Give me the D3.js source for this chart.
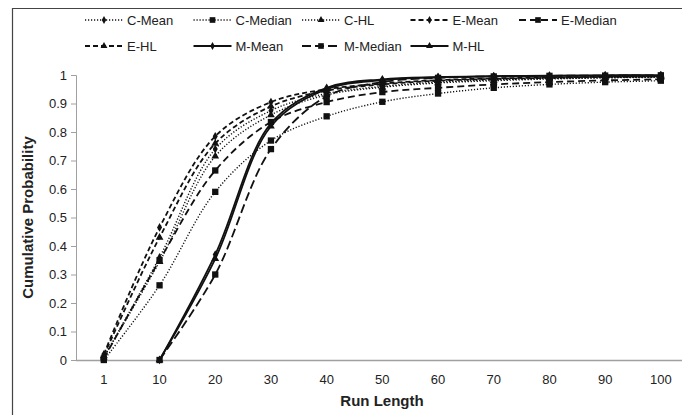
<!DOCTYPE html>
<html>
<head>
<meta charset="utf-8">
<script src="https://cdn.jsdelivr.net/npm/d3@7"></script>
<style>
  html, body { margin: 0; padding: 0; background: #fff; }
  svg { display: block; }
  text { font-family: "Liberation Sans", Arial, sans-serif; fill: #222; }
</style>
</head>
<body>
<div id="chart"></div>
<script>
const runLengths = ["1", "10", "20", "30", "40", "50", "60", "70", "80", "90", "100"];
const yTicks = [0, 0.1, 0.2, 0.3, 0.4, 0.5, 0.6, 0.7, 0.8, 0.9, 1];
const seriesNames = ["C-Mean", "C-Median", "C-HL", "E-Mean", "E-Median", "E-HL", "M-Mean", "M-Median", "M-HL"];
const cMean   = [0.01, 0.36, 0.74, 0.875, 0.935, 0.96, 0.975, 0.983, 0.988, 0.991, 0.993];
const cMedian = [0.0, 0.262, 0.59, 0.77, 0.855, 0.906, 0.935, 0.955, 0.967, 0.975, 0.98];
const cHL     = [0.01, 0.345, 0.715, 0.86, 0.93, 0.957, 0.972, 0.98, 0.986, 0.99, 0.992];
const eMean   = [0.02, 0.465, 0.785, 0.905, 0.95, 0.97, 0.982, 0.988, 0.991, 0.994, 0.995];
const eMedian = [0.005, 0.35, 0.665, 0.835, 0.905, 0.94, 0.955, 0.967, 0.975, 0.981, 0.985];
const eHL     = [0.015, 0.43, 0.76, 0.89, 0.945, 0.967, 0.98, 0.986, 0.99, 0.993, 0.995];
const mMean   = [null, 0, 0.37, 0.83, 0.955, 0.985, 0.993, 0.996, 0.998, 0.999, 0.999];
const mMedian = [null, 0, 0.30, 0.74, 0.925, 0.975, 0.99, 0.995, 0.997, 0.998, 0.999];
const mHL     = [null, 0, 0.355, 0.82, 0.95, 0.982, 0.992, 0.995, 0.997, 0.998, 0.999];

const values = [cMean, cMedian, cHL, eMean, eMedian, eHL, mMean, mMedian, mHL];
const dashes = ["1.2,1.8", "1.2,1.8", "1.2,1.8", "5,3", "7,4", "5,3", null, "9,4", null];
const widths = [1.4, 1.4, 1.4, 1.8, 1.8, 1.8, 1.8, 1.8, 1.8];
const shapes = [d3.symbolDiamond, d3.symbolSquare, d3.symbolTriangle,
                d3.symbolDiamond, d3.symbolSquare, d3.symbolTriangle,
                d3.symbolDiamond, d3.symbolSquare, d3.symbolTriangle];
const sizes = [22, 40, 26, 22, 40, 26, 22, 40, 26];

const chartWidth = 682;
const chartHeight = 415;
const plotLeft = 76, plotTop = 75, plotBottom = 360, plotRight = 682;

const svg = d3.select("#chart").append("svg")
  .attr("width", chartWidth).attr("height", chartHeight);

// scales in page coordinates
const xScale = d3.scaleBand().domain(runLengths).range([plotLeft, plotLeft + 11 * 55.7]);
const yScale = d3.scaleLinear().domain([0, 1]).range([plotBottom, plotTop]);
const cx = d => xScale(d) + xScale.bandwidth() / 2;

// axis lines and ticks
const gy = svg.append("g").attr("transform", `translate(${plotLeft},0)`)
  .call(d3.axisLeft(yScale).tickValues(yTicks).tickSize(5).tickFormat(() => ""));
gy.select(".domain").attr("stroke", "#a0a0a0");
gy.selectAll(".tick line").attr("stroke", "#a0a0a0");

const gx = svg.append("g").attr("transform", `translate(0,${plotBottom})`)
  .call(d3.axisBottom(xScale).tickSize(0).tickFormat(() => ""));
gx.select(".domain").attr("d", `M${plotLeft},0.5H${plotRight}`).attr("stroke", "#a0a0a0").attr("stroke-width", 1.5);

// tick labels
svg.append("g").selectAll("text").data(yTicks).enter().append("text")
  .attr("x", plotLeft - 9).attr("y", d => yScale(d) + 4.5)
  .attr("text-anchor", "end").attr("font-size", 13)
  .text(d3.format("~g"));
svg.append("g").selectAll("text").data(runLengths).enter().append("text")
  .attr("x", d => cx(d)).attr("y", plotBottom + 24)
  .attr("text-anchor", "middle").attr("font-size", 13)
  .text(d => d);

// axis titles
svg.append("text").attr("x", 382).attr("y", 406).attr("text-anchor", "middle")
  .attr("font-size", 15).attr("font-weight", "bold").text("Run Length");
svg.append("text").attr("transform", `translate(33,${(plotTop + plotBottom) / 2}) rotate(-90)`)
  .attr("text-anchor", "middle").attr("font-size", 15).attr("font-weight", "bold")
  .text("Cumulative Probability");

const line = d3.line()
  .defined(d => d.v !== null)
  .x(d => cx(d.c))
  .y(d => yScale(d.v))
  .curve(d3.curveCatmullRom.alpha(0.5));

values.forEach((vals, i) => {
  const pts = runLengths.map((c, j) => ({ c, v: vals[j] }));
  svg.append("path").datum(pts).attr("d", line)
    .attr("fill", "none").attr("stroke", "#111").attr("stroke-width", widths[i])
    .attr("stroke-dasharray", dashes[i]);
  svg.selectAll(null).data(pts.filter(d => d.v !== null)).enter().append("path")
    .attr("d", d3.symbol().type(shapes[i]).size(sizes[i]))
    .attr("transform", d => `translate(${cx(d.c)},${yScale(d.v)})`)
    .attr("fill", "#111");
});

// legend
seriesNames.forEach((name, i) => {
  const row = i < 5 ? 0 : 1;
  const col = i < 5 ? i : i - 5;
  const x = 85 + col * 108.5;
  const y = row === 0 ? 20 : 46;
  svg.append("line").attr("x1", x).attr("x2", x + 38).attr("y1", y).attr("y2", y)
    .attr("stroke", "#111").attr("stroke-width", widths[i]).attr("stroke-dasharray", dashes[i]);
  svg.append("path").attr("d", d3.symbol().type(shapes[i]).size(sizes[i] * 0.8))
    .attr("transform", `translate(${x + 19},${y})`).attr("fill", "#111");
  svg.append("text").attr("x", x + 42).attr("y", y + 5).attr("font-size", 13).text(name);
});

// outer frame (only its top and left edges fall inside the picture)
svg.append("path").attr("d", `M12.5,${chartHeight} V8.5 H${chartWidth}`)
  .attr("fill", "none").attr("stroke", "#444").attr("stroke-width", 1.2);
</script>
</body>
</html>
